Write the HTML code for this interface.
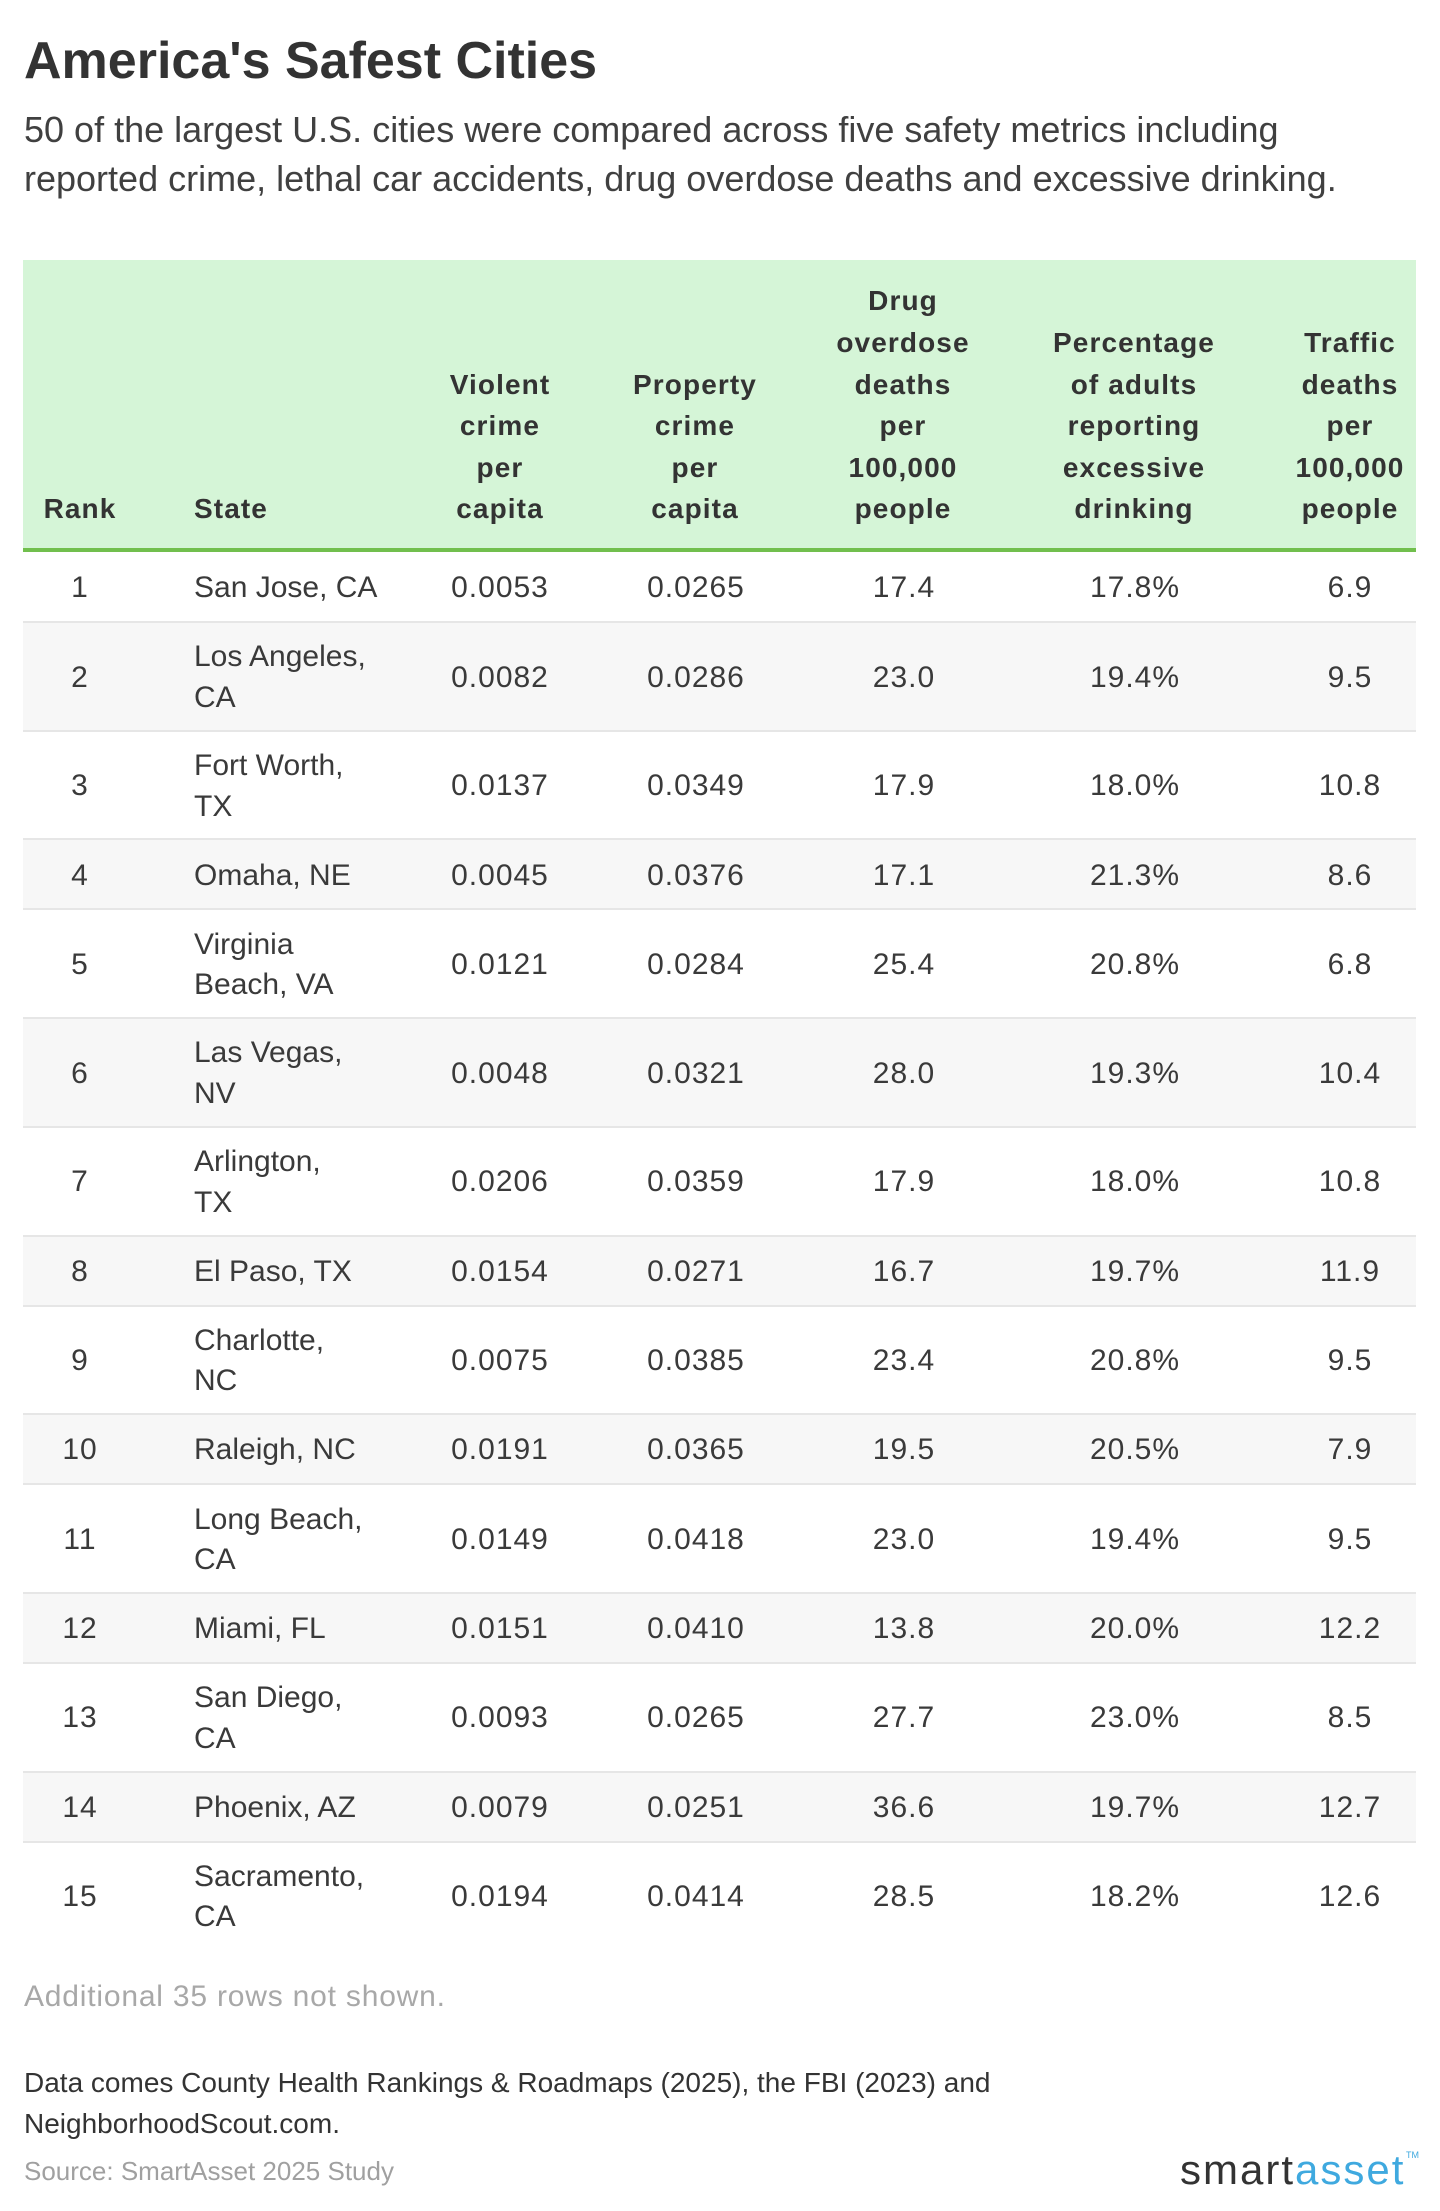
<!DOCTYPE html>
<html>
<head>
<meta charset="utf-8">
<style>
  html,body{margin:0;padding:0;background:#fff;}
  body{width:1440px;height:2211px;position:relative;overflow:hidden;font-family:"Liberation Sans",Arial,sans-serif;color:#3a3a3a;}
  .abs{position:absolute;}
  #title{left:24px;top:31px;font-size:52px;line-height:60px;font-weight:bold;color:#333;white-space:nowrap;}
  #sub{left:24px;top:104.7px;font-size:36px;line-height:49px;color:#404040;white-space:nowrap;}
  #hdr{left:23px;top:260px;width:1393px;height:288px;background:#d5f5d7;}
  #hdrline{left:23px;top:548px;width:1393px;height:4px;background:#71bf4d;}
  .hc{position:absolute;top:260px;height:270px;display:flex;align-items:flex-end;justify-content:center;text-align:center;font-weight:bold;font-size:28px;line-height:41.6px;letter-spacing:1.1px;color:#333;}
  .row{position:absolute;left:23px;width:1393px;}
  .row.g{background:#f7f7f7;}
  .row.b{border-top:2px solid #e6e6e6;box-sizing:border-box;}
  .c{position:absolute;top:0;height:100%;box-sizing:border-box;padding-top:2px;display:flex;align-items:center;font-size:30px;line-height:40.5px;color:#3a3a3a;white-space:nowrap;}
  .cc{justify-content:center;text-align:center;width:200px;}
  .num{letter-spacing:1px;}
  .st{left:171px;width:300px;}
</style>
</head>
<body>
<div id="title" class="abs">America's Safest Cities</div>
<div id="sub" class="abs">50 of the largest U.S. cities were compared across five safety metrics including<br>reported crime, lethal car accidents, drug overdose deaths and excessive drinking.</div>

<div id="hdr" class="abs"></div>
<div id="hdrline" class="abs"></div>

<div class="hc" style="left:20px;width:120px;">Rank</div>
<div class="hc" style="left:194px;width:200px;justify-content:flex-start;text-align:left;">State</div>
<div class="hc" style="left:400px;width:200px;">Violent<br>crime<br>per<br>capita</div>
<div class="hc" style="left:595px;width:200px;">Property<br>crime<br>per<br>capita</div>
<div class="hc" style="left:803px;width:200px;">Drug<br>overdose<br>deaths<br>per<br>100,000<br>people</div>
<div class="hc" style="left:1034px;width:200px;">Percentage<br>of adults<br>reporting<br>excessive<br>drinking</div>
<div class="hc" style="left:1270px;width:160px;">Traffic<br>deaths<br>per<br>100,000<br>people</div>

<div class="row" style="top:552px;height:70px;">
  <div class="c cc num" style="left:-43px;">1</div>
  <div class="c st">San Jose, CA</div>
  <div class="c cc num" style="left:377px;">0.0053</div>
  <div class="c cc num" style="left:573px;">0.0265</div>
  <div class="c cc num" style="left:781px;">17.4</div>
  <div class="c cc num" style="left:1012px;">17.8%</div>
  <div class="c cc num" style="left:1227px;">6.9</div>
</div>
<div class="row g b" style="top:621px;height:109.7px;">
  <div class="c cc num" style="left:-43px;">2</div>
  <div class="c st">Los Angeles,<br>CA</div>
  <div class="c cc num" style="left:377px;">0.0082</div>
  <div class="c cc num" style="left:573px;">0.0286</div>
  <div class="c cc num" style="left:781px;">23.0</div>
  <div class="c cc num" style="left:1012px;">19.4%</div>
  <div class="c cc num" style="left:1227px;">9.5</div>
</div>
<div class="row b" style="top:729.7px;height:109.7px;">
  <div class="c cc num" style="left:-43px;">3</div>
  <div class="c st">Fort Worth,<br>TX</div>
  <div class="c cc num" style="left:377px;">0.0137</div>
  <div class="c cc num" style="left:573px;">0.0349</div>
  <div class="c cc num" style="left:781px;">17.9</div>
  <div class="c cc num" style="left:1012px;">18.0%</div>
  <div class="c cc num" style="left:1227px;">10.8</div>
</div>
<div class="row g b" style="top:838.4px;height:71px;">
  <div class="c cc num" style="left:-43px;">4</div>
  <div class="c st">Omaha, NE</div>
  <div class="c cc num" style="left:377px;">0.0045</div>
  <div class="c cc num" style="left:573px;">0.0376</div>
  <div class="c cc num" style="left:781px;">17.1</div>
  <div class="c cc num" style="left:1012px;">21.3%</div>
  <div class="c cc num" style="left:1227px;">8.6</div>
</div>
<div class="row b" style="top:908.4px;height:109.7px;">
  <div class="c cc num" style="left:-43px;">5</div>
  <div class="c st">Virginia<br>Beach, VA</div>
  <div class="c cc num" style="left:377px;">0.0121</div>
  <div class="c cc num" style="left:573px;">0.0284</div>
  <div class="c cc num" style="left:781px;">25.4</div>
  <div class="c cc num" style="left:1012px;">20.8%</div>
  <div class="c cc num" style="left:1227px;">6.8</div>
</div>
<div class="row g b" style="top:1017.1px;height:109.7px;">
  <div class="c cc num" style="left:-43px;">6</div>
  <div class="c st">Las Vegas,<br>NV</div>
  <div class="c cc num" style="left:377px;">0.0048</div>
  <div class="c cc num" style="left:573px;">0.0321</div>
  <div class="c cc num" style="left:781px;">28.0</div>
  <div class="c cc num" style="left:1012px;">19.3%</div>
  <div class="c cc num" style="left:1227px;">10.4</div>
</div>
<div class="row b" style="top:1125.8px;height:109.7px;">
  <div class="c cc num" style="left:-43px;">7</div>
  <div class="c st">Arlington,<br>TX</div>
  <div class="c cc num" style="left:377px;">0.0206</div>
  <div class="c cc num" style="left:573px;">0.0359</div>
  <div class="c cc num" style="left:781px;">17.9</div>
  <div class="c cc num" style="left:1012px;">18.0%</div>
  <div class="c cc num" style="left:1227px;">10.8</div>
</div>
<div class="row g b" style="top:1234.5px;height:71px;">
  <div class="c cc num" style="left:-43px;">8</div>
  <div class="c st">El Paso, TX</div>
  <div class="c cc num" style="left:377px;">0.0154</div>
  <div class="c cc num" style="left:573px;">0.0271</div>
  <div class="c cc num" style="left:781px;">16.7</div>
  <div class="c cc num" style="left:1012px;">19.7%</div>
  <div class="c cc num" style="left:1227px;">11.9</div>
</div>
<div class="row b" style="top:1304.5px;height:109.7px;">
  <div class="c cc num" style="left:-43px;">9</div>
  <div class="c st">Charlotte,<br>NC</div>
  <div class="c cc num" style="left:377px;">0.0075</div>
  <div class="c cc num" style="left:573px;">0.0385</div>
  <div class="c cc num" style="left:781px;">23.4</div>
  <div class="c cc num" style="left:1012px;">20.8%</div>
  <div class="c cc num" style="left:1227px;">9.5</div>
</div>
<div class="row g b" style="top:1413.2px;height:71px;">
  <div class="c cc num" style="left:-43px;">10</div>
  <div class="c st">Raleigh, NC</div>
  <div class="c cc num" style="left:377px;">0.0191</div>
  <div class="c cc num" style="left:573px;">0.0365</div>
  <div class="c cc num" style="left:781px;">19.5</div>
  <div class="c cc num" style="left:1012px;">20.5%</div>
  <div class="c cc num" style="left:1227px;">7.9</div>
</div>
<div class="row b" style="top:1483.2px;height:109.7px;">
  <div class="c cc num" style="left:-43px;">11</div>
  <div class="c st">Long Beach,<br>CA</div>
  <div class="c cc num" style="left:377px;">0.0149</div>
  <div class="c cc num" style="left:573px;">0.0418</div>
  <div class="c cc num" style="left:781px;">23.0</div>
  <div class="c cc num" style="left:1012px;">19.4%</div>
  <div class="c cc num" style="left:1227px;">9.5</div>
</div>
<div class="row g b" style="top:1591.9px;height:71px;">
  <div class="c cc num" style="left:-43px;">12</div>
  <div class="c st">Miami, FL</div>
  <div class="c cc num" style="left:377px;">0.0151</div>
  <div class="c cc num" style="left:573px;">0.0410</div>
  <div class="c cc num" style="left:781px;">13.8</div>
  <div class="c cc num" style="left:1012px;">20.0%</div>
  <div class="c cc num" style="left:1227px;">12.2</div>
</div>
<div class="row b" style="top:1661.9px;height:109.7px;">
  <div class="c cc num" style="left:-43px;">13</div>
  <div class="c st">San Diego,<br>CA</div>
  <div class="c cc num" style="left:377px;">0.0093</div>
  <div class="c cc num" style="left:573px;">0.0265</div>
  <div class="c cc num" style="left:781px;">27.7</div>
  <div class="c cc num" style="left:1012px;">23.0%</div>
  <div class="c cc num" style="left:1227px;">8.5</div>
</div>
<div class="row g b" style="top:1770.6px;height:71px;">
  <div class="c cc num" style="left:-43px;">14</div>
  <div class="c st">Phoenix, AZ</div>
  <div class="c cc num" style="left:377px;">0.0079</div>
  <div class="c cc num" style="left:573px;">0.0251</div>
  <div class="c cc num" style="left:781px;">36.6</div>
  <div class="c cc num" style="left:1012px;">19.7%</div>
  <div class="c cc num" style="left:1227px;">12.7</div>
</div>
<div class="row b" style="top:1840.6px;height:109.7px;">
  <div class="c cc num" style="left:-43px;">15</div>
  <div class="c st">Sacramento,<br>CA</div>
  <div class="c cc num" style="left:377px;">0.0194</div>
  <div class="c cc num" style="left:573px;">0.0414</div>
  <div class="c cc num" style="left:781px;">28.5</div>
  <div class="c cc num" style="left:1012px;">18.2%</div>
  <div class="c cc num" style="left:1227px;">12.6</div>
</div>

<div class="abs" style="left:24px;top:1976.6px;font-size:30px;line-height:40px;letter-spacing:0.8px;color:#a8a8a8;white-space:nowrap;">Additional 35 rows not shown.</div>
<div class="abs" style="left:24px;top:2061.8px;font-size:28px;line-height:41px;color:#333;white-space:nowrap;">Data comes County Health Rankings &amp; Roadmaps (2025), the FBI (2023) and<br>NeighborhoodScout.com.</div>
<div class="abs" style="left:24px;top:2156px;font-size:26px;line-height:30px;color:#a0a0a0;white-space:nowrap;">Source: SmartAsset 2025 Study</div>

<div class="abs" style="left:1180px;top:2145.4px;width:228px;font-size:42px;line-height:50px;letter-spacing:2px;white-space:nowrap;"><span style="color:#333;">smart</span><span style="color:#3fa9df;">asset</span></div>
<div class="abs" style="left:1406px;top:2150px;font-size:9px;line-height:10px;color:#3fa9df;">TM</div>
</body>
</html>
